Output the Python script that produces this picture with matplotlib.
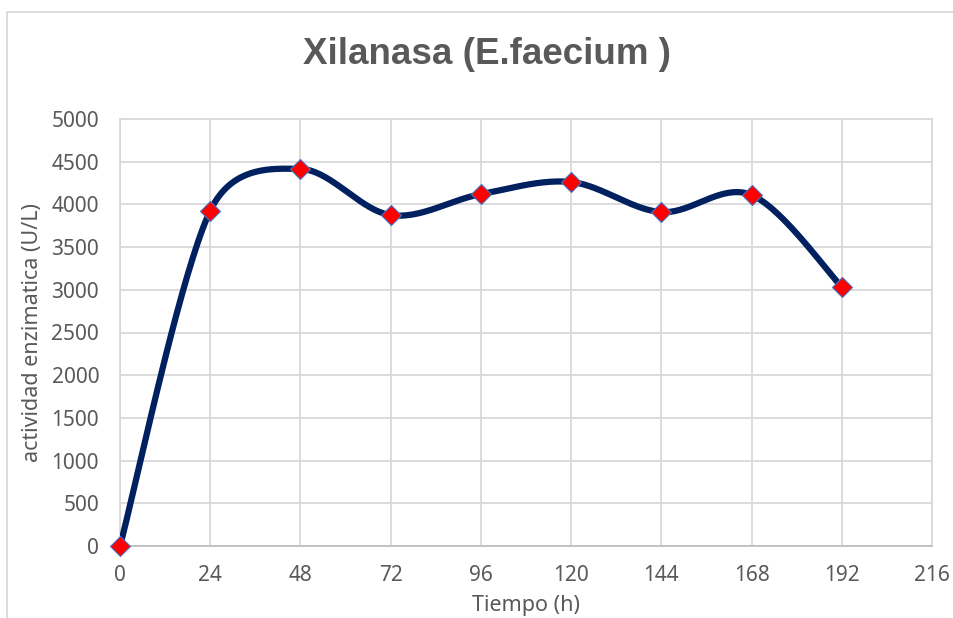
import numpy as np
import matplotlib.pyplot as plt
from matplotlib.lines import Line2D

tiempo = [0, 24, 48, 72, 96, 120, 144, 168, 192]
actividad = [0, 3925, 4415, 3875, 4120, 4262, 3910, 4110, 3035]
x_ticks = [0, 24, 48, 72, 96, 120, 144, 168, 192, 216]
y_ticks = [0, 500, 1000, 1500, 2000, 2500, 3000, 3500, 4000, 4500, 5000]

grey = '#595959'
grid_c = '#d9d9d9'


def smooth_curve(x, y, sx, sy, n=40):
    # bezier smoothing like the spreadsheet "smoothed line" option,
    # worked out in screen-like units so the tangent limits behave the same
    x = np.asarray(x, float) * sx
    y = np.asarray(y, float) * sy
    pts = np.column_stack([x, y])
    pts = np.vstack([pts[:1], pts, pts[-1:]])
    t = np.linspace(0, 1, n)[:, None]
    out = []
    for i in range(1, len(pts) - 2):
        a, b, c, d = pts[i - 1], pts[i], pts[i + 1], pts[i + 2]
        d12 = np.linalg.norm(c - b)
        d02 = np.linalg.norm(c - a)
        d13 = np.linalg.norm(d - b)
        f1 = 1 / 6 if d02 == 0 else min(1 / 6, d12 / (2 * d02))
        f2 = 1 / 6 if d13 == 0 else min(1 / 6, d12 / (2 * d13))
        p1 = b + (c - a) * f1
        p2 = c - (d - b) * f2
        seg = (1 - t) ** 3 * b + 3 * (1 - t) ** 2 * t * p1 + 3 * (1 - t) * t ** 2 * p2 + t ** 3 * c
        out.append(seg)
    out = np.vstack(out)
    return out[:, 0] / sx, out[:, 1] / sy


fig = plt.figure(figsize=(9.54, 6.18), dpi=100)
ax = fig.add_axes([120 / 954, 1 - 546 / 618, 812 / 954, 427 / 618])

cx, cy = smooth_curve(tiempo, actividad, 812 / 216, 427 / 5000)
ax.plot(cx, cy, color='#002060', linewidth=4.5, solid_capstyle='round', zorder=3)
ax.plot(tiempo, actividad, linestyle='none', marker='D', markersize=10.5,
        markerfacecolor='#ff0000', markeredgecolor='#4472c4', markeredgewidth=0.8,
        zorder=4, clip_on=False)

ax.set_xlim(0, 216)
ax.set_ylim(0, 5000)
ax.set_xticks(x_ticks)
ax.set_yticks(y_ticks)
ax.grid(True, color=grid_c, linewidth=1.3)
ax.set_axisbelow(True)
for s in ax.spines.values():
    s.set_color(grid_c)
    s.set_linewidth(1.3)
ax.spines['bottom'].set_color('#bfbfbf')
ax.tick_params(axis='both', length=0, labelsize=15, labelcolor=grey)
ax.tick_params(axis='y', pad=15)
ax.tick_params(axis='x', pad=14)
for lbl in ax.get_xticklabels() + ax.get_yticklabels():
    lbl.set_family('Noto Sans')

ax.set_xlabel('Tiempo (h)', fontsize=15.5, color=grey, family='Noto Sans', labelpad=6)
ax.set_ylabel('actividad enzimatica (U/L)', fontsize=15.5, color=grey, family='Noto Sans', labelpad=6)

fig.text(487 / 954, 1 - 55 / 618, 'Xilanasa (E.faecium )', ha='center', va='center',
         fontsize=26.5, fontweight='bold', color=grey, family='Liberation Sans')

# outer chart frame (top and left edges visible in the crop)
fig.add_artist(Line2D([7 / 954, 7 / 954, 1], [0, 1 - 12 / 618, 1 - 12 / 618],
                      color=grid_c, linewidth=1.3, transform=fig.transFigure))

fig.savefig('out.png', dpi=100)
